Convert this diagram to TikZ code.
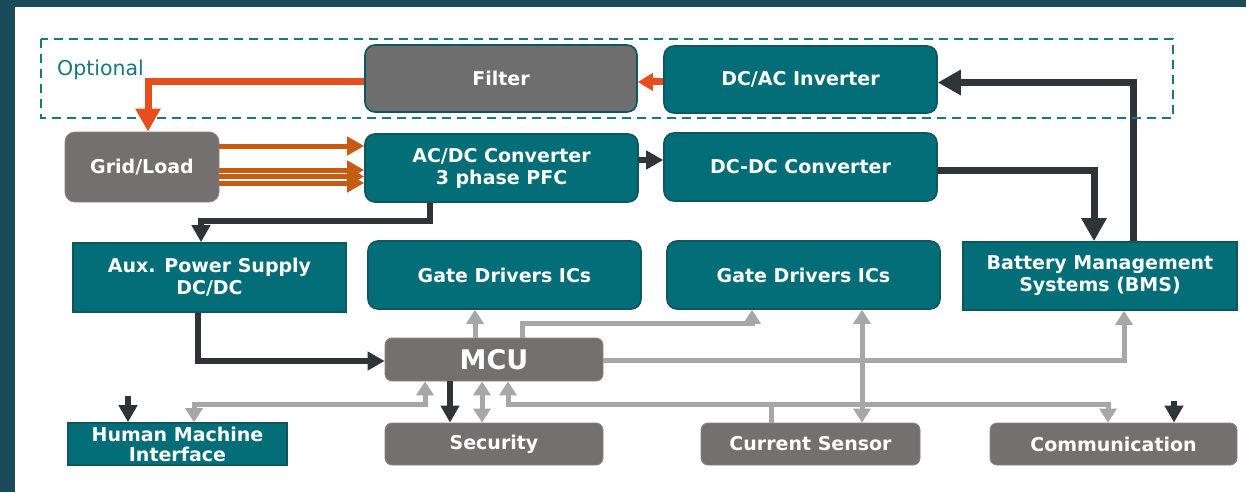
\documentclass[tikz,border=0pt]{standalone}
\usepackage{fontspec}
\setmainfont{DejaVu Sans}
\usetikzlibrary{arrows.meta}

\definecolor{framecol}{HTML}{1B4A5B}
\definecolor{tealfill}{HTML}{036E78}
\definecolor{tealedge}{HTML}{0E5660}
\definecolor{filtergray}{HTML}{6E6E6E}
\definecolor{boxgray}{HTML}{757070}
\definecolor{boxgrayedge}{HTML}{888484}
\definecolor{redline}{HTML}{E64E1E}
\definecolor{orangeline}{HTML}{C75B12}
\definecolor{darkline}{HTML}{2F3437}
\definecolor{grayline}{HTML}{A7A7A7}
\definecolor{dashcol}{HTML}{187880}

\begin{document}
\begin{tikzpicture}[x=1pt,y=-1pt,
  label/.style={text=white, align=center, inner sep=0pt,
    font=\bfseries\fontsize{19}{22}\selectfont},
  tealround/.style={label, draw=tealedge, line width=1.6pt, fill=tealfill, rounded corners=10pt},
  tealrect/.style={label, draw=tealedge, line width=1.6pt, fill=tealfill},
  grayround/.style={label, draw=tealedge, line width=1.6pt, fill=filtergray, rounded corners=10pt},
  graysoft/.style={label, draw=boxgrayedge, line width=0.8pt, fill=boxgray, rounded corners=10pt},
  graysmall/.style={label, draw=boxgrayedge, line width=0.8pt, fill=boxgray, rounded corners=7pt},
  darkarr/.style={draw=darkline, line width=5.5pt, -{Triangle[length=17pt,width=18pt]}},
  darkbig/.style={draw=darkline, line width=7pt, -{Triangle[length=23pt,width=24pt]}},
  grayarr/.style={draw=grayline, line width=5pt, -{Triangle[length=14pt,width=17pt]}},
  grayboth/.style={draw=grayline, line width=5pt, {Triangle[length=14pt,width=17pt]}-{Triangle[length=14pt,width=17pt]}},
  grayplain/.style={draw=grayline, line width=5pt},
  redbig/.style={draw=redline, line width=7pt, -{Triangle[length=23pt,width=24pt]}},
  redsmall/.style={draw=redline, line width=7pt, -{Triangle[length=15pt,width=17pt]}},
  orangearr/.style={draw=orangeline, line width=5pt, -{Triangle[length=17pt,width=18pt]}}
]
\useasboundingbox (0,0) rectangle (1246,492);

% frame and page
\fill[framecol] (0,0) rectangle (1246,492);
\fill[white] (15,7) rectangle (1246,492);

% blocks
\node[grayround, minimum width=272pt, minimum height=67pt] (filter) at (501,78.5) {Filter};
\node[tealround, minimum width=273pt, minimum height=67pt] (dcac) at (800.5,79.5) {DC/AC Inverter};
\node[graysoft, minimum width=154pt, minimum height=70pt] (grid) at (142,167) {Grid/Load};
\node[tealround, minimum width=273pt, minimum height=68pt] (acdc) at (501.5,168) {AC/DC Converter\\3 phase PFC};
\node[tealround, minimum width=273pt, minimum height=68pt] (dcdc) at (800.5,167) {DC-DC Converter};
\node[tealrect, minimum width=273pt, minimum height=69pt] (aux) at (209.5,277.5) {Aux. Power Supply\\DC/DC};
\node[tealround, minimum width=273pt, minimum height=68pt] (gd1) at (504.5,275) {Gate Drivers ICs};
\node[tealround, minimum width=273pt, minimum height=68pt] (gd2) at (803.5,275) {Gate Drivers ICs};
\node[tealrect, minimum width=274pt, minimum height=68pt] (bms) at (1100,276) {Battery Management\\Systems (BMS)};
\node[graysmall, minimum width=218pt, minimum height=43pt,
      font=\bfseries\fontsize{27}{30}\selectfont] (mcu) at (494,359.5) {MCU};
\node[graysmall, minimum width=218pt, minimum height=42pt] (sec) at (494,444) {Security};
\node[graysmall, minimum width=219pt, minimum height=42pt] (cs) at (810.5,444) {Current Sensor};
\node[graysmall, minimum width=247pt, minimum height=42pt] (comm) at (1113.5,444) {Communication};
\node[tealrect, minimum width=219pt, minimum height=42pt,
      font=\bfseries\fontsize{19}{20}\selectfont] (hmi) at (177.5,444) {Human Machine\\Interface};

% free ends of the two short inputs
\coordinate (hmiin) at (128,396);
\coordinate (commin) at (1174,401);

% power path (dark)
\draw[darkarr] (acdc.east |- 0,160) -- (dcdc.west |- 0,160);
\draw[darkarr] (430,0 |- acdc.south) -- (430,221) -| (201,0 |- aux.north);
\draw[darkbig] (dcdc.east |- 0,170.5) -| (1094,0 |- bms.north);
\draw[darkbig] (1133,0 |- bms.north) |- (dcac.east |- 0,82.5);
\draw[darkarr] (198,0 |- aux.south) |- (mcu.west |- 0,361);

% optional section
\draw[dashcol, line width=2.4pt, dash pattern=on 9pt off 6pt] (41,39) rectangle (1173,118);
\node[anchor=base west, inner sep=0pt, text=dashcol,
      font=\fontsize{20.5}{24}\selectfont] (opt) at (57,76) {Optional};

% AC side (red / orange)
\draw[redsmall] (dcac.west |- 0,82) -- (filter.east |- 0,82);
\draw[redbig] (filter.west |- 0,81.5) -| (148,0 |- grid.north);
\foreach \yy in {146,170,176.5,183}
  \draw[orangearr] (grid.east |- 0,\yy) -- (acdc.west |- 0,\yy);

% signal paths (gray)
\draw[grayarr] (475,0 |- mcu.north) -- (475,0 |- gd1.south);
\draw[grayarr] (522,0 |- mcu.north) -- (522,323) -| (752,0 |- gd2.south);
\draw[grayarr] (mcu.east |- 0,360) -| (1124,0 |- bms.south);
\draw[grayboth] (862,0 |- gd2.south) -- (862,0 |- cs.north);
\draw[grayplain] (771,0 |- cs.north) -- (771,404);
\draw[grayboth] (508,0 |- mcu.south) |- (1108,404) -- (1108,0 |- comm.north);
\draw[grayboth] (425,0 |- mcu.south) -- (425,404) -| (194,0 |- hmi.north);
\draw[grayboth] (482,0 |- mcu.south) -- (482,0 |- sec.north);

% control outputs (dark)
\draw[darkarr] (450,0 |- mcu.south) -- (450,0 |- sec.north);
\draw[darkarr] (hmiin) -- (128,0 |- hmi.north);
\draw[darkarr] (commin) -- (1174,0 |- comm.north);
\end{tikzpicture}
\end{document}
